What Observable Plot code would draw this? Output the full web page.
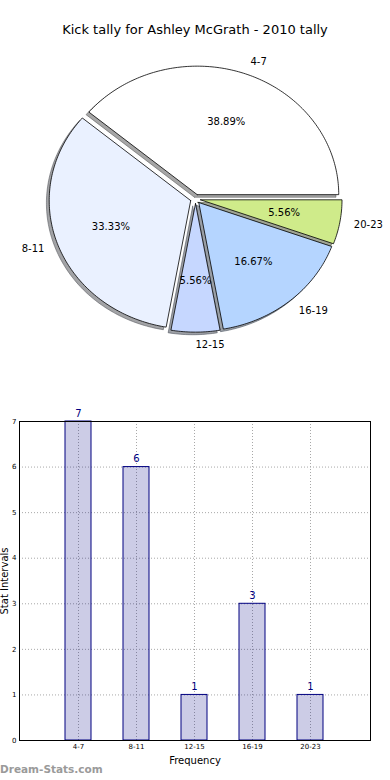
<!DOCTYPE html>
<html><head><meta charset="utf-8">
<script src="https://cdn.jsdelivr.net/npm/d3@7"></script>
<script src="https://cdn.jsdelivr.net/npm/@observablehq/plot@0.6"></script>
<style>
body{margin:0;background:#fff;font-family:"DejaVu Sans",sans-serif;}
#wrap{position:relative;width:390px;height:780px;overflow:hidden;background:#fff;}
#title{position:absolute;top:22px;left:0;width:390px;text-align:center;font-size:13px;color:#000;line-height:16px;}
#pie{position:absolute;top:0;left:0;}
#bar{position:absolute;top:400px;left:0;}
#wm{position:absolute;left:0;top:763px;font-size:10.5px;font-weight:bold;color:#9a9a9a;line-height:13px;}
</style></head><body>
<div id="wrap"><div id="pie"></div><div id="title"></div><div id="bar"></div><div id="wm"></div></div>
<script>
const title = "Kick tally for Ashley McGrath - 2010 tally";
const categories = ["4-7", "8-11", "12-15", "16-19", "20-23"];
const counts = [7, 6, 1, 3, 1];
const pieColors = ["#ffffff", "#eaf1ff", "#c6d7ff", "#b5d5ff", "#cfeb8a"];
const yTicks = [0, 1, 2, 3, 4, 5, 6, 7];
const xLabel = "Frequency";
const yLabel = "Stat Intervals";
const watermark = "Dream-Stats.com";

document.getElementById("title").textContent = title;
document.getElementById("wm").textContent = watermark;

// ---- Pie geometry derived from the counts ----
const total = d3.sum(counts);
const explode = 0.036;
const wedges = [];
const labels = [];
const pcts = [];
let acc = 0;
counts.forEach((v, i) => {
  const a1 = 2 * Math.PI * acc / total;
  const a2 = 2 * Math.PI * (acc + v) / total;
  acc += v;
  const mid = (a1 + a2) / 2;
  const ox = explode * Math.cos(mid), oy = explode * Math.sin(mid);
  const pts = [{x: ox, y: oy}];
  const n = Math.max(2, Math.ceil((a2 - a1) / (Math.PI / 180)));
  for (let k = 0; k <= n; k++) {
    const a = a1 + (a2 - a1) * k / n;
    pts.push({x: ox + Math.cos(a), y: oy + Math.sin(a)});
  }
  pts.push({x: ox, y: oy});
  const c = d3.rgb(pieColors[i]);
  wedges.push({pts, color: pieColors[i], shadow: d3.rgb(c.r * 0.3, c.g * 0.3, c.b * 0.3).formatHex()});
  labels.push({x: ox + 1.1 * Math.cos(mid), y: oy + 1.1 * Math.sin(mid), text: categories[i], left: Math.cos(mid) > -1e-9});
  pcts.push({x: ox + 0.6 * Math.cos(mid), y: oy + 0.6 * Math.sin(mid), text: d3.format(".2f")(v / total * 100) + "%"});
});

const pieMarks = [];
wedges.forEach(w => pieMarks.push(Plot.line(w.pts, {x: "x", y: "y", fill: w.shadow, fillOpacity: 0.5, stroke: w.shadow, strokeOpacity: 0.5, strokeWidth: 1, dx: -2.8, dy: 2.6, curve: "linear"})));
wedges.forEach(w => pieMarks.push(Plot.line(w.pts, {x: "x", y: "y", fill: w.color, stroke: "#000", strokeWidth: 0.8, curve: "linear"})));
pieMarks.push(Plot.text(labels.filter(d => d.left), {x: "x", y: "y", text: "text", textAnchor: "start", fontSize: 10, fill: "#000"}));
pieMarks.push(Plot.text(labels.filter(d => !d.left), {x: "x", y: "y", text: "text", textAnchor: "end", fontSize: 10, fill: "#000"}));
pieMarks.push(Plot.text(pcts, {x: "x", y: "y", text: "text", fontSize: 10, fill: "#000"}));

const pie = Plot.plot({
  width: 390, height: 380, margin: 0,
  style: {fontFamily: "DejaVu Sans", background: "transparent", overflow: "visible"},
  x: {domain: [-1, 1], range: [195 - 141.5, 195 + 141.5], axis: null},
  y: {domain: [-1, 1], range: [198.5 + 128.5, 198.5 - 128.5], axis: null},
  marks: pieMarks
});
document.getElementById("pie").appendChild(pie);

// ---- Bar chart ----
const barData = categories.map((c, i) => ({cat: c, n: counts[i]}));
const bar = Plot.plot({
  width: 390, height: 380,
  marginLeft: 19, marginRight: 20, marginTop: 21, marginBottom: 40,
  style: {fontFamily: "DejaVu Sans", fontSize: "7px", background: "transparent", color: "#000", overflow: "visible"},
  x: {domain: categories, paddingInner: 0.547, paddingOuter: 0.774, align: 0.5, tickSize: 0, tickPadding: 4, label: null},
  y: {domain: [0, 7], ticks: yTicks, tickFormat: d3.format("d"), tickSize: 0, tickPadding: 3, label: null},
  marks: [
    Plot.ruleY(yTicks, {stroke: "#a8a8a8", strokeDasharray: "1,2", strokeWidth: 1}),
    Plot.ruleX(categories, {stroke: "#a8a8a8", strokeDasharray: "1,2", strokeWidth: 1}),
    Plot.barY(barData, {x: "cat", y: "n", fill: "navy", fillOpacity: 0.2, stroke: "navy", strokeWidth: 1}),
    Plot.text(barData, {x: "cat", y: "n", text: d => String(d.n), dy: -8, fill: "navy", fontSize: 10}),
    Plot.frame({stroke: "#000", strokeWidth: 1}),
    Plot.text([yLabel], {frameAnchor: "left", text: d => d, rotate: -90, textAnchor: "middle", dx: -15, fontSize: 10, fill: "#000"}),
    Plot.text([xLabel], {frameAnchor: "bottom", text: d => d, textAnchor: "middle", lineAnchor: "middle", dy: 20, fontSize: 10, fill: "#000"})
  ]
});
document.getElementById("bar").appendChild(bar);
</script>
</body></html>
